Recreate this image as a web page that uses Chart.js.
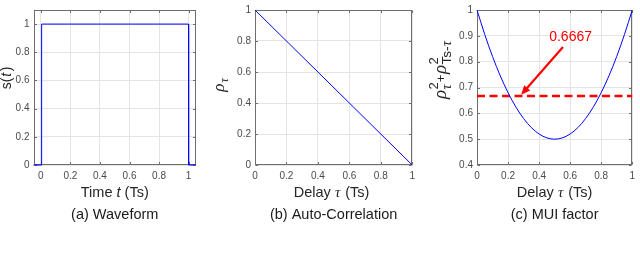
<!DOCTYPE html>
<html>
<head>
<meta charset="utf-8">
<script src="https://cdn.jsdelivr.net/npm/chart.js@4/dist/chart.umd.min.js"></script>
<style>
  html, body { margin: 0; padding: 0; background: #ffffff; }
  #wrap { position: relative; width: 640px; height: 253px; overflow: hidden; }
  canvas { position: absolute; top: 0; }
</style>
</head>
<body>
<div id="wrap">
  <canvas id="ca" width="210" height="253" style="left:0px"></canvas>
  <canvas id="cb" width="210" height="253" style="left:210px"></canvas>
  <canvas id="cc" width="220" height="253" style="left:420px"></canvas>
</div>
<script>
// ---------------- data ----------------
// (a) Waveform: rectangular pulse
const waveT = [-0.05, 0.005, 0.005, 1.0, 1.0, 1.05];
const waveS = [0, 0, 1, 1, 0, 0];
const xTicksA = [0, 0.2, 0.4, 0.6, 0.8, 1];
const yTicksA = [0, 0.2, 0.4, 0.6, 0.8, 1];

// (b) Auto-correlation
const delayB = [0, 1];
const rhoB = [1, 0];
const xTicksB = [0, 0.2, 0.4, 0.6, 0.8, 1];
const yTicksB = [0, 0.2, 0.4, 0.6, 0.8, 1];

// (c) MUI factor
const delayC = [0, 0.05, 0.1, 0.15, 0.2, 0.25, 0.3, 0.35, 0.4, 0.45, 0.5,
                0.55, 0.6, 0.65, 0.7, 0.75, 0.8, 0.85, 0.9, 0.95, 1];
const muiC = [1, 0.905, 0.82, 0.745, 0.68, 0.625, 0.58, 0.545, 0.52, 0.505, 0.5,
              0.505, 0.52, 0.545, 0.58, 0.625, 0.68, 0.745, 0.82, 0.905, 1];
const levelX = [0, 1];
const levelY = [0.6667, 0.6667];
const levelText = "0.6667";
const levelTextPos = [0.603, 0.894];
const arrowTail = [0.554, 0.857];
const arrowHead = [0.285, 0.672];
const xTicksC = [0, 0.2, 0.4, 0.6, 0.8, 1];
const yTicksC = [0.4, 0.5, 0.6, 0.7, 0.8, 0.9, 1];

// ---------------- helpers ----------------
const SANS = "'Liberation Sans', Arial, Helvetica, sans-serif";
const SERIF = "'Liberation Serif', 'DejaVu Serif', serif";
const TXT = '#262626';
const BOX = '#6e6e6e';

function pts(xs, ys) { return xs.map((x, i) => ({ x: x, y: ys[i] })); }

function seqWidth(ctx, seq) {
  let w = 0;
  for (const p of seq) w += partWidth(ctx, p);
  return w;
}
function partWidth(ctx, p) {
  if (p.stack) return Math.max(...p.stack.map(s => seqWidth(ctx, s)));
  ctx.font = p.f;
  return ctx.measureText(p.t).width + (p.sp || 0);
}
function drawSeq(ctx, seq, x) {
  for (const p of seq) {
    if (p.stack) {
      for (const s of p.stack) drawSeq(ctx, s, x);
      x += partWidth(ctx, p);
    } else {
      ctx.font = p.f;
      ctx.fillText(p.t, x, p.dy || 0);
      x += partWidth(ctx, p);
    }
  }
  return x;
}
function drawRich(ctx, seq, cx, by, rot, color) {
  ctx.save();
  ctx.translate(cx, by);
  if (rot) ctx.rotate(rot);
  ctx.fillStyle = color || TXT;
  ctx.textBaseline = 'alphabetic';
  ctx.textAlign = 'left';
  const w = seqWidth(ctx, seq);
  drawSeq(ctx, seq, -w / 2);
  ctx.restore();
}

const F = (sz, st) => (st ? st + ' ' : '') + sz + 'px ' + SANS;
const FS = (sz, st) => (st ? st + ' ' : '') + sz + 'px ' + SERIF;

// text decorations per canvas (kept outside Chart options)
const decor = {
  ca: {
    xlabel: [{ t: 'Time ', f: F(14.5) }, { t: 't', f: F(14.5, 'italic') }, { t: ' (Ts)', f: F(14.5) }],
    caption: [{ t: '(a) Waveform', f: F(14.5) }],
    ylabel: [{ t: 's(', f: F(14), sp: 1 }, { t: 't', f: F(14, 'italic'), sp: 1.5 }, { t: ')', f: F(14) }],
    ylabelX: 11, ylabelY: 78
  },
  cb: {
    xlabel: [{ t: 'Delay ', f: F(14.5) }, { t: 'τ', f: FS(15, 'italic'), sp: 1 }, { t: ' (Ts)', f: F(14.5) }],
    xlabelDx: -2,
    caption: [{ t: '(b) Auto-Correlation', f: F(14.5) }],
    ylabel: [{ t: 'ρ', f: FS(17, 'italic'), sp: 1 }, { t: 'τ', f: FS(12, 'italic'), dy: 4 }],
    ylabelX: 14, ylabelY: 85
  },
  cc: {
    xlabel: [{ t: 'Delay ', f: F(14.5) }, { t: 'τ', f: FS(15, 'italic'), sp: 1 }, { t: ' (Ts)', f: F(14.5) }],
    caption: [{ t: '(c) MUI factor', f: F(14.5) }],
    ylabel: [
      { t: 'ρ', f: FS(19, 'italic'), sp: 0.5 },
      { stack: [[{ t: '2', f: F(13), dy: -8 }], [{ t: 'τ', f: FS(14, 'italic'), dy: 4.5 }]], sp: 0.5 },
      { t: '+', f: F(13), dy: -1.5, sp: 0.5 },
      { t: 'ρ', f: FS(19, 'italic'), sp: 0.5 },
      { stack: [[{ t: '2', f: F(13), dy: -8 }],
                [{ t: 'Ts-', f: F(13.5), dy: 4.5, sp: 0.5 }, { t: 'τ', f: FS(14, 'italic'), dy: 4.5 }]] }
    ],
    ylabelX: 26, ylabelY: 70,
    annotate: true
  }
};

function drawAnnotation(chart) {
  const xs = chart.scales.x, ys = chart.scales.y, ctx = chart.ctx;
  const x0 = xs.getPixelForValue(arrowTail[0]), y0 = ys.getPixelForValue(arrowTail[1]);
  const x1 = xs.getPixelForValue(arrowHead[0]), y1 = ys.getPixelForValue(arrowHead[1]);
  const ang = Math.atan2(y1 - y0, x1 - x0);
  const hl = 9, hw = 4;
  const c = Math.cos(ang), s = Math.sin(ang);
  ctx.save();
  ctx.strokeStyle = '#ff0000';
  ctx.fillStyle = '#ff0000';
  ctx.lineWidth = 2.2;
  ctx.beginPath();
  ctx.moveTo(x0, y0);
  ctx.lineTo(x1 - c * hl * 0.8, y1 - s * hl * 0.8);
  ctx.stroke();
  ctx.beginPath();
  ctx.moveTo(x1, y1);
  ctx.lineTo(x1 - c * hl - s * hw, y1 - s * hl + c * hw);
  ctx.lineTo(x1 - c * hl + s * hw, y1 - s * hl - c * hw);
  ctx.closePath();
  ctx.fill();
  ctx.font = F(14);
  ctx.textAlign = 'center';
  ctx.textBaseline = 'middle';
  ctx.fillText(levelText, xs.getPixelForValue(levelTextPos[0]), ys.getPixelForValue(levelTextPos[1]));
  ctx.restore();
}

const decorPlugin = {
  id: 'decorBox',
  beforeDatasetsDraw(chart) {
    const a = chart.chartArea;
    const ctx = chart.ctx;
    ctx.save();
    ctx.strokeStyle = BOX;
    ctx.lineWidth = 1;
    const L = Math.round(a.left) + 0.5, R = Math.round(a.right) - 0.5;
    const T = Math.round(a.top) + 0.5, B = Math.round(a.bottom) - 0.5;
    ctx.strokeRect(L, T, R - L, B - T);
    const tl = 2.5;
    ctx.beginPath();
    for (const t of chart.scales.x.ticks) {
      const px = Math.round(chart.scales.x.getPixelForValue(t.value)) + 0.5;
      ctx.moveTo(px, B); ctx.lineTo(px, B - tl);
      ctx.moveTo(px, T); ctx.lineTo(px, T + tl);
    }
    for (const t of chart.scales.y.ticks) {
      const py = Math.round(chart.scales.y.getPixelForValue(t.value)) + 0.5;
      ctx.moveTo(L, py); ctx.lineTo(L + tl, py);
      ctx.moveTo(R, py); ctx.lineTo(R - tl, py);
    }
    ctx.stroke();
    ctx.restore();
  },
  afterDraw(chart) {
    const d = decor[chart.canvas.id];
    if (!d) return;
    const a = chart.chartArea;
    const ctx = chart.ctx;
    const cx = (a.left + a.right) / 2;
    drawRich(ctx, d.xlabel, cx + (d.xlabelDx || 0), 197, 0, TXT);
    drawRich(ctx, d.caption, cx + (d.captionDx || 0), 218.5, 0, '#1a1a1a');
    drawRich(ctx, d.ylabel, d.ylabelX, d.ylabelY, -Math.PI / 2, TXT);
    if (d.annotate) drawAnnotation(chart);
  }
};

function makeOptions(cfg) {
  return {
    responsive: false,
    animation: false,
    devicePixelRatio: 1,
    events: [],
    layout: { padding: { left: 0, top: 3, right: cfg.padRight, bottom: 253 - 165 - 20 } },
    elements: { point: { radius: 0 }, line: { borderWidth: 1 } },
    plugins: {
      legend: { display: false },
      tooltip: { enabled: false }
    },
    scales: {
      x: {
        type: 'linear',
        min: cfg.xmin, max: cfg.xmax,
        afterBuildTicks: s => { s.ticks = cfg.xticks.map(v => ({ value: v })); },
        afterFit: s => { s.height = 20; },
        grid: { color: '#e4e4e4', lineWidth: 1, drawTicks: false },
        border: { display: false },
        ticks: {
          padding: 5,
          color: '#4a4a4a',
          font: { family: SANS, size: 10 },
          maxRotation: 0, autoSkip: false,
          callback: v => String(+v.toFixed(2))
        }
      },
      y: {
        type: 'linear',
        min: cfg.ymin, max: cfg.ymax,
        afterBuildTicks: s => { s.ticks = cfg.yticks.map(v => ({ value: v })); },
        afterFit: s => { s.width = cfg.yWidth; },
        grid: { color: '#e4e4e4', lineWidth: 1, drawTicks: false },
        border: { display: false },
        ticks: {
          padding: 4,
          color: '#4a4a4a',
          font: { family: SANS, size: 10 },
          autoSkip: false,
          callback: v => String(+v.toFixed(2))
        }
      }
    }
  };
}

// ---------------- (a) ----------------
new Chart(document.getElementById('ca'), {
  type: 'line',
  data: { datasets: [{ data: pts(waveT, waveS), borderColor: '#0000ff', borderWidth: 1, clip: 3, tension: 0 }] },
  options: makeOptions({
    xmin: -0.05, xmax: 1.05, ymin: 0, ymax: 1.1,
    xticks: xTicksA, yticks: yTicksA,
    yWidth: 33.5, padRight: 14
  }),
  plugins: [decorPlugin]
});

// ---------------- (b) ----------------
new Chart(document.getElementById('cb'), {
  type: 'line',
  data: { datasets: [{ data: pts(delayB, rhoB), borderColor: '#0000ff', borderWidth: 1, clip: 3, tension: 0 }] },
  options: makeOptions({
    xmin: 0, xmax: 1, ymin: 0, ymax: 1,
    xticks: xTicksB, yticks: yTicksB,
    yWidth: 45, padRight: 2
  }),
  plugins: [decorPlugin]
});

// ---------------- (c) ----------------
new Chart(document.getElementById('cc'), {
  type: 'line',
  data: {
    datasets: [
      { data: pts(delayC, muiC), borderColor: '#0000ff', borderWidth: 1, clip: 3, cubicInterpolationMode: 'monotone' },
      { data: pts(levelX, levelY), borderColor: '#ff0000', borderWidth: 2.5, borderDash: [8, 4.5], clip: 3, tension: 0 }
    ]
  },
  options: makeOptions({
    xmin: 0, xmax: 1, ymin: 0.4, ymax: 1,
    xticks: xTicksC, yticks: yTicksC,
    yWidth: 57, padRight: 1
  }),
  plugins: [decorPlugin]
});
</script>
</body>
</html>
